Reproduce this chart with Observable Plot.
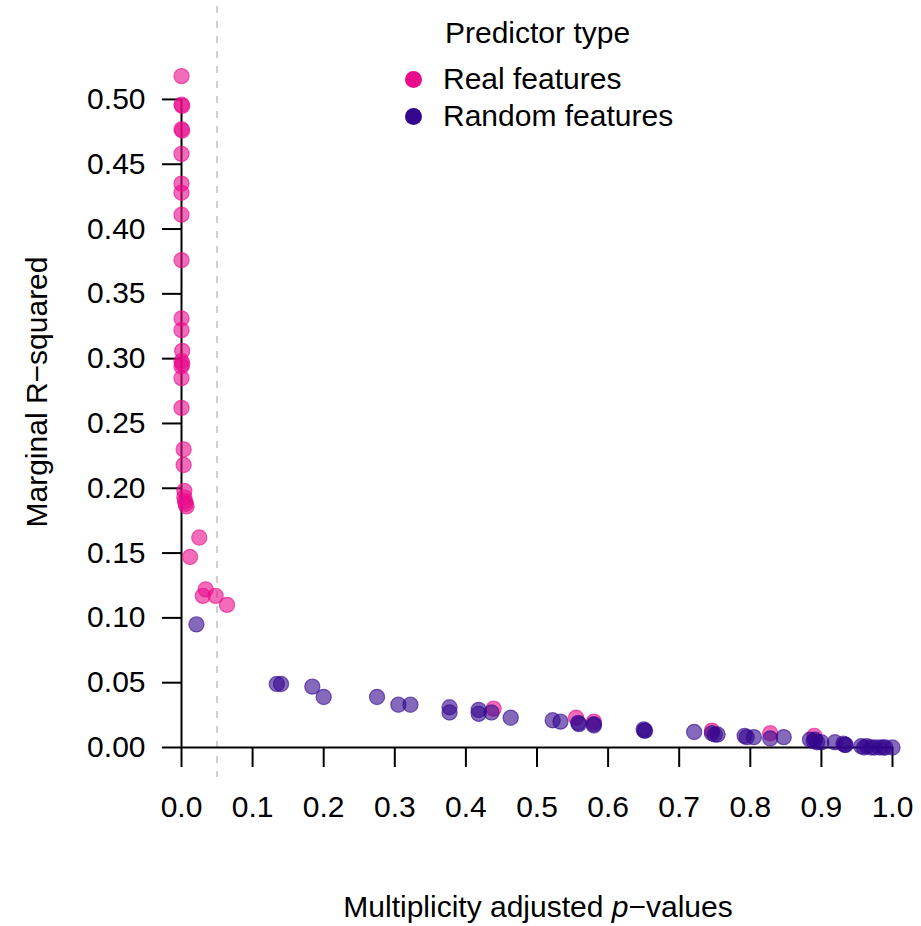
<!DOCTYPE html>
<html>
<head>
<meta charset="utf-8">
<script src="https://cdn.jsdelivr.net/npm/d3@7"></script>
<script src="https://cdn.jsdelivr.net/npm/@observablehq/plot@0.6"></script>
<style>
  html, body { margin: 0; padding: 0; background: #fff; }
  #wrap { position: relative; width: 921px; height: 926px; font-family: "Liberation Sans", Arial, Helvetica, sans-serif; color: #000; }
  #legend { position: absolute; left: 0; top: 0; font-size: 30px; }
  .lg-title { position: absolute; left: 445px; top: 16px; white-space: nowrap; }
  .lg-item { position: absolute; left: 405px; white-space: nowrap; display: flex; align-items: center; }
  .lg-dot { width: 17px; height: 17px; border-radius: 50%; margin-right: 21px; }
  .xlab { position: absolute; left: 0; width: 1076px; top: 890px; text-align: center; font-size: 30px; white-space: nowrap; }
  .ylab { position: absolute; left: 37px; top: 392px; font-size: 30px; white-space: nowrap; transform: translate(-50%, -50%) rotate(-90deg); }
</style>
</head>
<body>
<div id="wrap"></div>
<script>
// ---- data ----
const seriesNames = ["Real features", "Random features"];
const seriesColors = ["#EA0A8C", "#34068E"];

const realP = [0.000, 0.000, 0.001, 0.000, 0.001, 0.000, 0.000, 0.000, 0.000, 0.000,
               0.000, 0.000, 0.001, 0.000, 0.001, 0.000, 0.000, 0.000, 0.003, 0.003,
               0.004, 0.004, 0.005, 0.006, 0.007, 0.025, 0.012, 0.034, 0.030, 0.048,
               0.064, 0.439, 0.555, 0.580, 0.746, 0.828, 0.890];
const realR2 = [0.518, 0.496, 0.495, 0.477, 0.476, 0.458, 0.435, 0.428, 0.411, 0.376,
                0.331, 0.322, 0.306, 0.298, 0.296, 0.294, 0.285, 0.262, 0.230, 0.218,
                0.198, 0.193, 0.190, 0.188, 0.186, 0.162, 0.147, 0.122, 0.117, 0.117,
                0.110, 0.030, 0.023, 0.020, 0.013, 0.011, 0.009];

const randomP = [0.021, 0.134, 0.140, 0.184, 0.200, 0.275, 0.305, 0.322, 0.377, 0.377,
                 0.418, 0.418, 0.436, 0.463, 0.522, 0.533, 0.559, 0.558, 0.580, 0.580,
                 0.650, 0.651, 0.652, 0.721, 0.746, 0.750, 0.754, 0.792, 0.795, 0.805,
                 0.828, 0.847, 0.884, 0.889, 0.891, 0.894, 0.900, 0.919, 0.931, 0.933,
                 0.934, 0.956, 0.960, 0.964, 0.970, 0.975, 0.982, 0.987, 0.990, 1.000];
const randomR2 = [0.095, 0.049, 0.049, 0.047, 0.039, 0.039, 0.033, 0.033, 0.031, 0.027,
                  0.029, 0.026, 0.027, 0.023, 0.021, 0.020, 0.018, 0.019, 0.018, 0.017,
                  0.014, 0.013, 0.013, 0.012, 0.011, 0.010, 0.010, 0.009, 0.008, 0.008,
                  0.007, 0.008, 0.006, 0.005, 0.006, 0.004, 0.004, 0.004, 0.003, 0.002,
                  0.002, 0.001, 0.000, 0.001, 0.000, 0.000, 0.000, 0.000, 0.000, 0.000];

const xTicks = [0, 0.1, 0.2, 0.3, 0.4, 0.5, 0.6, 0.7, 0.8, 0.9, 1.0];
const yTicks = [0, 0.05, 0.10, 0.15, 0.20, 0.25, 0.30, 0.35, 0.40, 0.45, 0.50];
const thresholdP = [0.05];

// ---- build ----
const real = realP.map((p, i) => ({p, r2: realR2[i]}));
const random = randomP.map((p, i) => ({p, r2: randomR2[i]}));
const [xMin, xMax] = d3.extent(xTicks);
const [yMin, yMax] = d3.extent(yTicks);

const dotStyle = (c) => ({x: "p", y: "r2", r: 7.6, fill: c, fillOpacity: 0.6, stroke: c, strokeOpacity: 0.6, strokeWidth: 1.2});

const chart = Plot.plot({
  width: 921,
  height: 926,
  marginLeft: 181,
  marginRight: 29,
  marginTop: 73,
  marginBottom: 179,
  style: {fontFamily: "'Liberation Sans', Arial, Helvetica, sans-serif", background: "transparent", overflow: "visible"},
  x: {domain: [0, 1]},
  y: {domain: [0, 0.52]},
  marks: [
    Plot.ruleX(thresholdP, {stroke: "#cfcfcf", strokeWidth: 2, strokeDasharray: "7,8", insetTop: -67, insetBottom: -30}),
    Plot.ruleX([xMin], {y1: yMin, y2: yMax, stroke: "#000", strokeWidth: 2}),
    Plot.ruleY([yMin], {x1: xMin, x2: xMax, stroke: "#000", strokeWidth: 2}),
    Plot.axisY(yTicks, {tickSize: 19, tickPadding: 17, tickFormat: d3.format(".2f"), fontSize: 30, strokeWidth: 2, label: null}),
    Plot.axisX(xTicks, {tickSize: 20, tickPadding: 28, tickFormat: d3.format(".1f"), fontSize: 30, strokeWidth: 2, label: null}),
    Plot.dot(real, dotStyle(seriesColors[0])),
    Plot.dot(random, dotStyle(seriesColors[1]))
  ]
});

const wrap = document.getElementById("wrap");
wrap.appendChild(chart);

// legend
const legend = document.createElement("div");
legend.id = "legend";
legend.innerHTML = `<div class="lg-title">Predictor type</div>` +
  seriesNames.map((n, i) => `<div class="lg-item" style="top:${62 + i * 37}px"><span class="lg-dot" style="background:${seriesColors[i]}"></span><span>${n}</span></div>`).join("");
wrap.appendChild(legend);

const xlab = document.createElement("div");
xlab.className = "xlab";
xlab.innerHTML = "Multiplicity adjusted <i>p</i>\u2212values";
wrap.appendChild(xlab);

const ylab = document.createElement("div");
ylab.className = "ylab";
ylab.textContent = "Marginal R\u2212squared";
wrap.appendChild(ylab);
</script>
</body>
</html>
